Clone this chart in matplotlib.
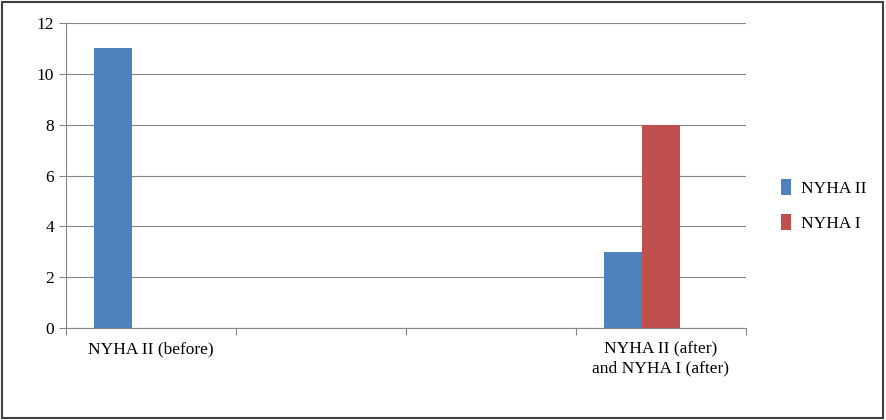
import matplotlib
matplotlib.use("Agg")
import matplotlib.pyplot as plt
from matplotlib.patches import Rectangle

categories = ["NYHA II (before)", "", "", "NYHA II (after)\nand NYHA I (after)"]
nyha2 = [11, 0, 0, 3]
nyha1 = [0, 0, 0, 8]
yticks = [0, 2, 4, 6, 8, 10, 12]

plt.rcParams['font.family'] = ['Liberation Serif', 'DejaVu Serif']
fig = plt.figure(figsize=(8.87, 4.20), dpi=100)
fig.patches.append(Rectangle((0.002, 0.004), 0.994, 0.992, transform=fig.transFigure,
                             fill=False, edgecolor='#404040', linewidth=1.5))
ax = fig.add_axes([66/887, 1-328/420, 680/887, 305/420])
w = 38/170
x = [i + 0.5 for i in range(len(categories))]
ax.bar([v - w for v in x], nyha2, w, color='#4F81BD', label='NYHA II')
ax.bar(x, nyha1, w, color='#C0504D', label='NYHA I')
ax.set_xlim(0, 4)
ax.set_ylim(0, 12)
ax.set_yticks(yticks)
ax.yaxis.grid(True, color='#868686', linewidth=0.8)
ax.set_axisbelow(True)
ax.set_xticks([0, 1, 2, 3, 4])
ax.set_xticklabels([])
ax.set_xticks(x, minor=True)
ax.set_xticklabels(categories, minor=True, fontsize=12.5)
ax.tick_params(axis='x', which='minor', length=0, pad=10)
ax.tick_params(axis='x', which='major', length=5, color='#868686', direction='out')
ax.tick_params(axis='y', length=5, color='#868686', labelsize=12.5)
for s in ['top', 'right']:
    ax.spines[s].set_visible(False)
for s in ['left', 'bottom']:
    ax.spines[s].set_color('#868686')
ax.legend(loc='center left', bbox_to_anchor=(765/887, 0.51), bbox_transform=fig.transFigure,
          frameon=False, fontsize=12.5, handlelength=0.6, handleheight=1.0,
          handletextpad=0.6, labelspacing=1.0)
fig.savefig("out.png", dpi=100)
